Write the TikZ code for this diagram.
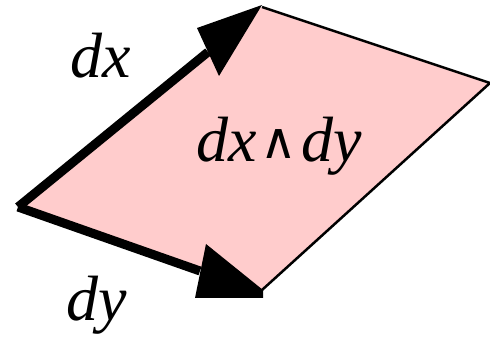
\documentclass[tikz,border=0pt]{standalone}
\usepackage{fontspec}
\setmainfont{Liberation Serif}
\newfontfamily\symfont{DejaVu Sans}
\definecolor{areapink}{HTML}{FFCCCC}
\begin{document}
\begin{tikzpicture}[x=1pt,y=-1pt,
  edge/.style={line width=2.5pt,line join=miter},
  vec/.style={line width=9pt},
  head/.style={fill=black,draw=none},
  lab/.style={font=\fontsize{64}{66}\selectfont\itshape,inner sep=0pt,anchor=base}]
\useasboundingbox (0,0) rectangle (490,347);
\coordinate (L) at (18,207);
\coordinate (T) at (262,7);
\coordinate (R) at (490,83);
\coordinate (B) at (262,290);
\coordinate (xb) at (208,52);
\coordinate (yb) at (200,271);
\fill[areapink] (L) -- (T) -- (R) -- (B) -- cycle;
\draw[edge] (T) -- (R) -- (B);
\draw[vec] (L) -- (xb);
\draw[vec] (L) -- (yb);
\fill[head] (197,28) -- (219,76) -- (262,5) -- cycle;
\fill[head] (206,244) -- (195,298) -- (263,298) -- (263,290) -- cycle;
\node[lab] (ldx) at (101,78) {dx};
\node[lab] (ldy) at (97,321) {dy};
\node[lab] (lw) at (279,162) {dx\hspace{4pt}\raisebox{3pt}{\symfont\fontsize{50}{50}\selectfont\upshape ∧}\hspace{4pt}dy};
\end{tikzpicture}
\end{document}
